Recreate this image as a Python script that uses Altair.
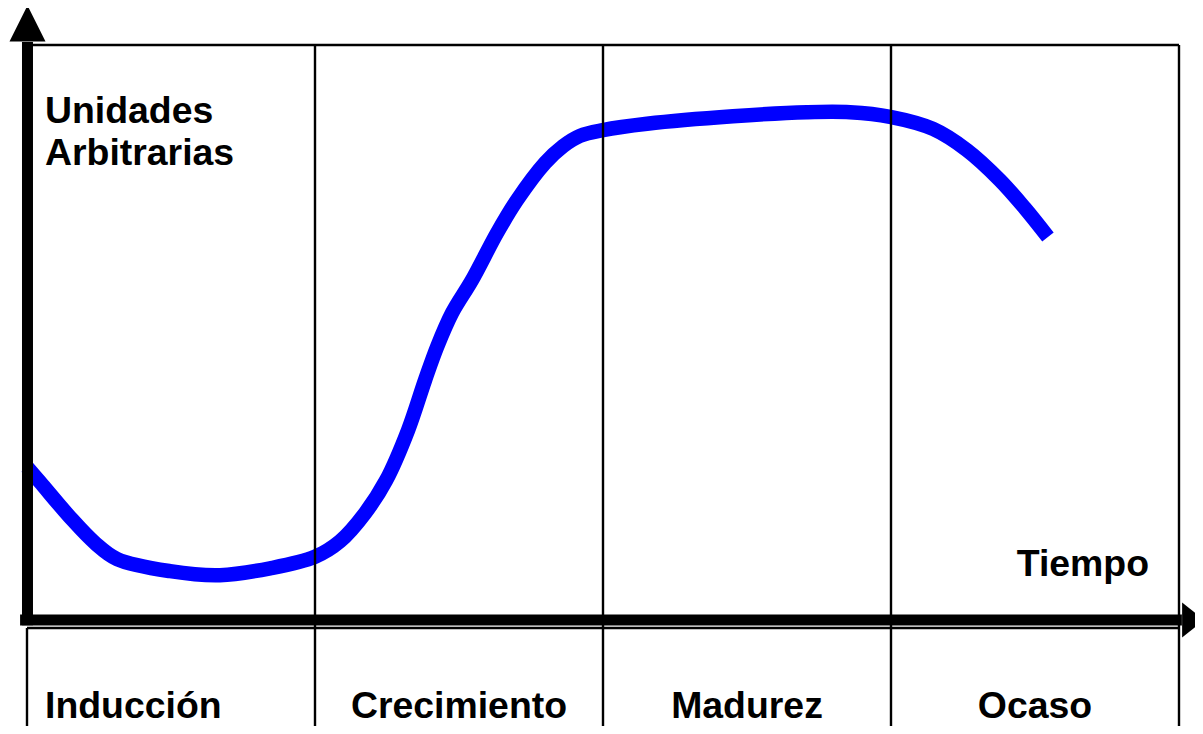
import altair as alt
import pandas as pd

# ---------------- data ----------------
# stage boundaries on the time axis (in stage units) and stage names
stage_bounds = [0, 1, 2, 3, 4]
stage_names = ["Inducción", "Crecimiento", "Madurez", "Ocaso"]
stage_label_t = [0.0625, 1.5, 2.5, 3.5]
stage_label_align = ["left", "center", "center", "center"]

# life-cycle curve (time in stage units, arbitrary units 0..100)
curve_t = [0.0, 0.045, 0.149, 0.236, 0.313, 0.497, 0.670, 0.844, 1.000, 1.087,
           1.174, 1.247, 1.323, 1.382, 1.424, 1.476, 1.545, 1.632, 1.701, 1.799,
           1.861, 1.920, 2.000, 2.153, 2.451, 2.708, 2.858, 2.997, 3.146,
           3.264, 3.378, 3.465, 3.545]
curve_v = [26.6, 24.0, 17.9, 13.4, 10.6, 8.5, 7.8, 9.0, 11.0, 13.7,
           18.6, 24.3, 33.0, 41.7, 47.5, 53.4, 59.1, 67.3, 73.0, 79.5,
           82.4, 84.2, 85.2, 86.3, 87.6, 88.3, 88.3, 87.5, 85.4,
           81.7, 76.5, 71.6, 66.6]

top_value = 100          # top frame line
y_title = ["Unidades", "Arbitrarias"]
x_title = "Tiempo"

# ---------------- layout ----------------
W, H = 1187, 718
X_MIN, X_MAX = -0.065972, 4.05556
Y_MIN, Y_MAX = -18.43, 106.43
FONT = "Liberation Sans"
FS = 37.4

xs = alt.Scale(domain=[X_MIN, X_MAX], nice=False, zero=False)
ys = alt.Scale(domain=[Y_MIN, Y_MAX], nice=False, zero=False)

def X(f="t"):
    return alt.X(f"{f}:Q", scale=xs, axis=None)

def Y(f="v"):
    return alt.Y(f"{f}:Q", scale=ys, axis=None)

curve_df = pd.DataFrame({"t": curve_t, "v": curve_v})
curve = alt.Chart(curve_df).mark_line(
    color="#0000ff", strokeWidth=14.5, interpolate="catmull-rom", strokeCap="butt"
).encode(x=X(), y=Y())

# thin grid lines: stage boundaries, top frame, line below the axis
below = -1.39
thin_rows = []
for b in stage_bounds:
    thin_rows.append({"t": b, "t2": b, "v": top_value if b > 0 else below, "v2": Y_MIN - 5})
thin_rows.append({"t": stage_bounds[0], "t2": stage_bounds[-1], "v": top_value, "v2": top_value})
thin_rows.append({"t": stage_bounds[0], "t2": stage_bounds[-1], "v": below, "v2": below})
thin = alt.Chart(pd.DataFrame(thin_rows)).mark_rule(color="black", strokeWidth=2.4).encode(
    x=X(), x2="t2:Q", y=Y(), y2="v2:Q")

# thick axes
thick_rows = [
    {"t": 0.0017, "t2": 0.0017, "v": 100.5, "v2": -0.9},
    {"t": -0.024, "t2": 4.01, "v": 0, "v2": 0},
]
thick = alt.Chart(pd.DataFrame(thick_rows)).mark_rule(color="black", strokeWidth=11).encode(
    x=X(), x2="t2:Q", y=Y(), y2="v2:Q")

# arrowheads
up = alt.Chart(pd.DataFrame({"t": [0.0017], "v": [103.74]})).mark_point(
    shape="M0,-1L-1,1L1,1Z", filled=True, color="black", size=1296, opacity=1, strokeWidth=0
).encode(x=X(), y=Y())
right = alt.Chart(pd.DataFrame({"t": [4.049], "v": [0]})).mark_point(
    shape="M1,0L-1,-1.6L-1,1.6Z", filled=True, color="black", size=484, opacity=1, strokeWidth=0
).encode(x=X(), y=Y())

def text_layer(df, align):
    return alt.Chart(df).mark_text(
        font=FONT, fontSize=FS, fontWeight="bold", color="black",
        align=align, baseline="alphabetic"
    ).encode(x=X(), y=Y(), text="label:N")

left_df = pd.DataFrame({
    "t": [0.0625, 0.0625] + [t for t, a in zip(stage_label_t, stage_label_align) if a == "left"],
    "v": [86.43, 79.13] + [-17.04 for a in stage_label_align if a == "left"],
    "label": y_title + [n for n, a in zip(stage_names, stage_label_align) if a == "left"],
})
center_df = pd.DataFrame({
    "t": [t for t, a in zip(stage_label_t, stage_label_align) if a == "center"],
    "v": [-17.04 for a in stage_label_align if a == "center"],
    "label": [n for n, a in zip(stage_names, stage_label_align) if a == "center"],
})
right_df = pd.DataFrame({"t": [3.896], "v": [7.65], "label": [x_title]})

chart = alt.layer(
    curve, thin, thick, up, right,
    text_layer(left_df, "left"),
    text_layer(center_df, "center"),
    text_layer(right_df, "right"),
).properties(
    width=W, height=H, padding=0,
    autosize=alt.AutoSizeParams(type="none"),
    background="white",
).configure_view(stroke=None)

chart.save("out.html", embed_options={"renderer": "svg", "actions": False})
